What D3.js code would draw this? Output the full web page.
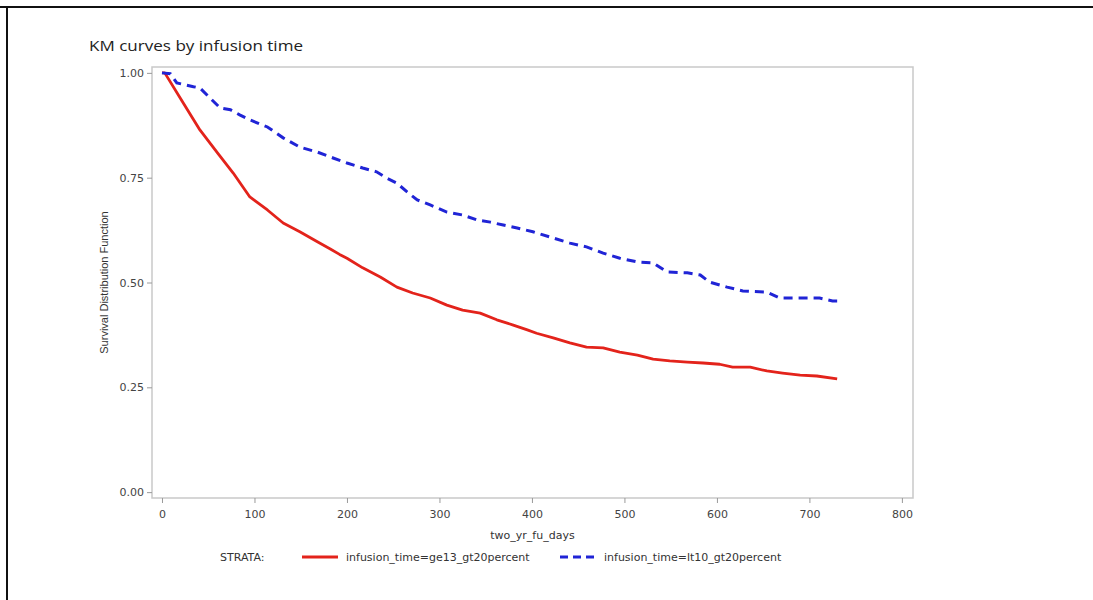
<!DOCTYPE html>
<html>
<head>
<meta charset="utf-8">
<script src="https://cdn.jsdelivr.net/npm/d3@7/dist/d3.min.js"></script>
<style>
	html, body { margin: 0; background: #fff; overflow: hidden; }
	svg { display: block; }
	svg text { font-family: "DejaVu Sans", Verdana, sans-serif; }
</style>
</head>
<body>
<svg id="chart" width="1093" height="600"></svg>
<script>
var chartTitle = "KM curves by infusion time";
var xLabel = "two_yr_fu_days";
var yLabel = "Survival Distribution Function";
var strataNames = ["infusion_time=ge13_gt20percent", "infusion_time=lt10_gt20percent"];

var xTicks = [0, 100, 200, 300, 400, 500, 600, 700, 800];
var yTicks = [0, 0.25, 0.5, 0.75, 1];

// ge13 group (red, solid)
var geDays = [0, 3, 23, 41, 60, 77, 95, 114, 131, 149, 168, 182, 192, 200, 217, 236, 254, 271, 290, 308, 325, 344, 362, 379, 395, 405, 423, 441, 459, 477, 495, 514, 531, 549, 568, 585, 603, 617, 636, 654, 671, 690, 708, 730];
var geSurv = [1, 1, 0.928, 0.864, 0.809, 0.761, 0.704, 0.673, 0.642, 0.621, 0.597, 0.580, 0.567, 0.558, 0.535, 0.513, 0.489, 0.475, 0.463, 0.446, 0.434, 0.427, 0.411, 0.399, 0.387, 0.379, 0.368, 0.356, 0.346, 0.344, 0.334, 0.327, 0.317, 0.313, 0.310, 0.308, 0.305, 0.298, 0.298, 0.289, 0.284, 0.279, 0.277, 0.270];

// lt10 group (blue, dashed)
var ltDays = [0, 9, 16, 34, 41, 52, 63, 74, 84, 95, 114, 131, 149, 168, 185, 200, 217, 232, 243, 254, 265, 276, 290, 308, 325, 341, 355, 369, 384, 401, 423, 441, 459, 477, 495, 514, 531, 546, 568, 582, 592, 611, 628, 654, 668, 690, 711, 725, 730];
var ltSurv = [1, 0.998, 0.976, 0.967, 0.964, 0.940, 0.916, 0.912, 0.900, 0.888, 0.871, 0.845, 0.823, 0.811, 0.797, 0.785, 0.773, 0.764, 0.749, 0.737, 0.716, 0.697, 0.685, 0.668, 0.661, 0.649, 0.644, 0.637, 0.630, 0.621, 0.606, 0.594, 0.585, 0.570, 0.558, 0.549, 0.547, 0.525, 0.523, 0.518, 0.501, 0.489, 0.480, 0.477, 0.463, 0.463, 0.463, 0.456, 0.456];

var redColor = "#e3231b";
var blueColor = "#2024d6";

var svg = d3.select("#chart");

// the screenshot has a dark edge on the top and the left
svg.append("line").attr("x1", 0).attr("x2", 1093).attr("y1", 7).attr("y2", 7)
	.attr("stroke", "#111").attr("stroke-width", 2);
svg.append("line").attr("x1", 7).attr("x2", 7).attr("y1", 6).attr("y2", 600)
	.attr("stroke", "#111").attr("stroke-width", 2);

var plot = {left: 152, right: 913, top: 67, bottom: 498};

var x = d3.scaleLinear().domain([-10.8, 812]).range([plot.left, plot.right]);
var y = d3.scaleLinear().domain([-0.014, 1.014]).range([plot.bottom, plot.top]);

svg.append("text")
	.attr("x", 89)
	.attr("y", 51)
	.attr("font-size", 14.5)
	.style("font-family", "'Open Sans', sans-serif")
	.attr("fill", "#222")
	.attr("textLength", 214)
	.attr("lengthAdjust", "spacingAndGlyphs")
	.text(chartTitle);

// frame
svg.append("rect")
	.attr("x", plot.left)
	.attr("y", plot.top)
	.attr("width", plot.right - plot.left)
	.attr("height", plot.bottom - plot.top)
	.attr("fill", "none")
	.attr("stroke", "#c9c9c9")
	.attr("stroke-width", 1.5);

var xAxis = svg.append("g")
	.attr("transform", "translate(0," + plot.bottom + ")")
	.call(d3.axisBottom(x).tickValues(xTicks).tickSize(5).tickSizeOuter(0).tickFormat(d3.format("d")));

var yAxis = svg.append("g")
	.attr("transform", "translate(" + plot.left + ",0)")
	.call(d3.axisLeft(y).tickValues(yTicks).tickSize(5).tickSizeOuter(0).tickFormat(d3.format(".2f")));

[xAxis, yAxis].forEach(function(ax) {
	ax.select(".domain").remove();
	ax.selectAll(".tick line").attr("stroke", "#9a9a9a");
	ax.selectAll(".tick text")
		.attr("fill", "#444")
		.attr("font-size", 11)
		.style("font-family", "'DejaVu Sans', Verdana, sans-serif");
});
xAxis.selectAll(".tick text").attr("dy", "1.05em");
yAxis.selectAll(".tick text").attr("x", -8);

svg.append("text")
	.attr("x", (plot.left + plot.right) / 2)
	.attr("y", 539)
	.attr("text-anchor", "middle")
	.attr("font-size", 11)
	.attr("fill", "#333")
	.text(xLabel);

svg.append("text")
	.attr("transform", "translate(108," + ((plot.top + plot.bottom) / 2) + ") rotate(-90)")
	.attr("text-anchor", "middle")
	.attr("font-size", 11)
	.attr("fill", "#333")
	.style("font-family", "'Liberation Sans Narrow', 'Arial Narrow', sans-serif")
	.text(yLabel);

var line = d3.line()
	.x(function(d) { return x(d[0]); })
	.y(function(d) { return y(d[1]); });

var plotArea = svg.append("g");

plotArea.append("path")
	.datum(d3.zip(geDays, geSurv))
	.attr("d", line)
	.attr("fill", "none")
	.attr("stroke", redColor)
	.attr("stroke-width", 2.8)
	.attr("stroke-linejoin", "round");

plotArea.append("path")
	.datum(d3.zip(ltDays, ltSurv))
	.attr("d", line)
	.attr("fill", "none")
	.attr("stroke", blueColor)
	.attr("stroke-width", 3)
	.attr("stroke-dasharray", "9,6");

// legend
var legend = svg.append("g").attr("transform", "translate(0,557)");
legend.append("text")
	.attr("x", 220).attr("y", 4)
	.attr("font-size", 11).attr("fill", "#333")
	.text("STRATA:");
legend.append("line")
	.attr("x1", 302).attr("x2", 338).attr("y1", 0).attr("y2", 0)
	.attr("stroke", redColor).attr("stroke-width", 2.8);
legend.append("text")
	.attr("x", 346).attr("y", 4)
	.attr("font-size", 11).attr("fill", "#333")
	.text(strataNames[0]);
legend.append("line")
	.attr("x1", 560).attr("x2", 599).attr("y1", 0).attr("y2", 0)
	.attr("stroke", blueColor).attr("stroke-width", 3)
	.attr("stroke-dasharray", "8,5");
legend.append("text")
	.attr("x", 604).attr("y", 4)
	.attr("font-size", 11).attr("fill", "#333")
	.text(strataNames[1]);
</script>
</body>
</html>
